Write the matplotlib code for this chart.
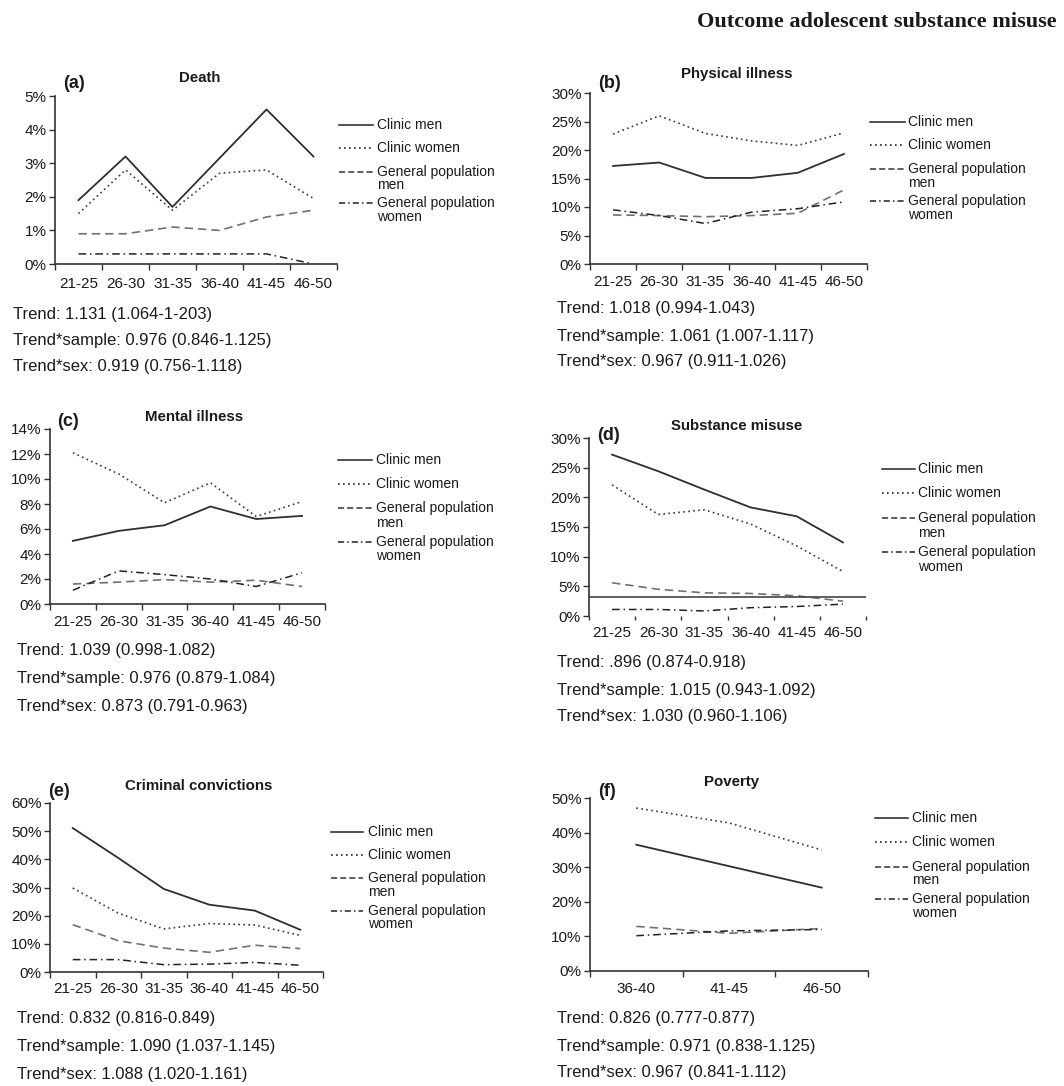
import matplotlib
matplotlib.use("Agg")
import matplotlib.pyplot as plt
from matplotlib.lines import Line2D

plt.rcParams['font.family'] = ['Liberation Sans', 'DejaVu Sans']

# age groups on the x axis
ages6 = ["21-25", "26-30", "31-35", "36-40", "41-45", "46-50"]
ages3 = ["36-40", "41-45", "46-50"]

# (a) death, %
death_cm = [1.9, 3.2, 1.7, 3.15, 4.6, 3.2]
death_cw = [1.5, 2.8, 1.6, 2.7, 2.8, 1.95]
death_gm = [0.9, 0.9, 1.1, 1.0, 1.4, 1.6]
death_gw = [0.3, 0.3, 0.3, 0.3, 0.3, 0.0]

# (b) physical illness, %
phys_cm = [17.2, 17.8, 15.1, 15.1, 16.0, 19.3]
phys_cw = [22.8, 26.0, 22.9, 21.6, 20.8, 23.0]
phys_gm = [8.6, 8.5, 8.3, 8.5, 8.9, 13.0]
phys_gw = [9.5, 8.5, 7.1, 9.1, 9.7, 10.9]

# (c) mental illness, %
mental_cm = [5.05, 5.85, 6.3, 7.8, 6.8, 7.05]
mental_cw = [12.1, 10.4, 8.1, 9.7, 7.0, 8.2]
mental_gm = [1.6, 1.75, 1.95, 1.75, 1.9, 1.4]
mental_gw = [1.1, 2.65, 2.35, 2.0, 1.4, 2.5]

# (d) substance misuse, %
subst_cm = [27.2, 24.4, 21.3, 18.3, 16.8, 12.4]
subst_cw = [22.1, 17.1, 17.9, 15.5, 11.8, 7.5]
subst_gm = [5.6, 4.5, 3.9, 3.8, 3.4, 2.5]
subst_gw = [1.1, 1.1, 0.85, 1.4, 1.6, 2.0]
subst_baseline = 3.15

# (e) criminal convictions, %
crime_cm = [51.1, 40.5, 29.5, 23.9, 21.8, 15.0]
crime_cw = [29.8, 20.9, 15.3, 17.2, 16.7, 13.0]
crime_gm = [16.8, 11.1, 8.5, 7.0, 9.5, 8.3]
crime_gw = [4.4, 4.4, 2.6, 2.8, 3.4, 2.4]

# (f) poverty, %
pov_cm = [36.5, 30.3, 24.1]
pov_cw = [47.1, 42.8, 35.0]
pov_gm = [12.9, 10.9, 12.3]
pov_gw = [10.2, 11.6, 12.0]

labels = ["Clinic men", "Clinic women", "General population\nmen",
          "General population\nwomen"]

trend_a = ["Trend: 1.131 (1.064-1-203)", "Trend*sample: 0.976 (0.846-1.125)",
           "Trend*sex: 0.919 (0.756-1.118)"]
trend_b = ["Trend: 1.018 (0.994-1.043)", "Trend*sample: 1.061 (1.007-1.117)",
           "Trend*sex: 0.967 (0.911-1.026)"]
trend_c = ["Trend: 1.039 (0.998-1.082)", "Trend*sample: 0.976 (0.879-1.084)",
           "Trend*sex: 0.873 (0.791-0.963)"]
trend_d = ["Trend: .896 (0.874-0.918)", "Trend*sample: 1.015 (0.943-1.092)",
           "Trend*sex: 1.030 (0.960-1.106)"]
trend_e = ["Trend: 0.832 (0.816-0.849)", "Trend*sample: 1.090 (1.037-1.145)",
           "Trend*sex: 1.088 (1.020-1.161)"]
trend_f = ["Trend: 0.826 (0.777-0.877)", "Trend*sample: 0.971 (0.838-1.125)",
           "Trend*sex: 0.967 (0.841-1.112)"]

W, H = 1064, 1086
fig = plt.figure(figsize=(W / 100, H / 100), dpi=100)

styles = [
    dict(color="#2e2e2e", lw=1.3, ls="-"),
    dict(color="#3a3a3a", lw=1.2, ls=(0, (1, 2))),
    dict(color="#707070", lw=1.2, ls=(0, (5, 3))),
    dict(color="#222222", lw=1.1, ls=(0, (5, 2.5, 1, 2.5))),
]
legend_styles = [
    dict(color="#222222", lw=1.1, ls="-"),
    dict(color="#222222", lw=1.2, ls=(0, (1, 2))),
    dict(color="#333333", lw=1.1, ls=(0, (4, 2))),
    dict(color="#222222", lw=1.1, ls=(0, (4, 2, 1, 2))),
]


def fx(x):
    return x / W


def fy(y):
    return 1 - y / H


def panel(l, r, t, b, cats, series, ymax, ystep, letter, title, lpos, tpos,
          legend, trend, bottom_axis=True, xpad=8):
    ax = fig.add_axes([fx(l), fy(b), (r - l) / W, (b - t) / H])
    n = len(cats)
    xs = list(range(n))
    for vals, st in zip(series, styles):
        ax.plot(xs, vals, **st)
    ax.set_xlim(-0.5, n - 0.5)
    ax.set_ylim(0, ymax)
    ax.set_yticks(range(0, ymax + 1, ystep))
    ax.set_yticklabels([f"{v}%" for v in range(0, ymax + 1, ystep)])
    ax.set_xticks([i - 0.5 for i in range(n + 1)])
    ax.set_xticklabels([])
    ax.set_xticks(xs, minor=True)
    ax.set_xticklabels(cats, minor=True)
    ax.tick_params(axis="x", which="major", length=4, width=1, color="#333")
    ax.tick_params(axis="x", which="minor", length=0, pad=xpad,
                   labelsize=11, labelcolor="#1a1a1a")
    ax.tick_params(axis="y", length=4, width=1, color="#333", pad=2,
                   labelsize=11, labelcolor="#1a1a1a")
    for s in ["top", "right"]:
        ax.spines[s].set_visible(False)
    for s in ["left", "bottom"]:
        ax.spines[s].set_color("#333")
        ax.spines[s].set_linewidth(1.2)
    if not bottom_axis:
        ax.spines["bottom"].set_visible(False)
        ax.tick_params(axis="x", which="major", length=3)
    ax.patch.set_alpha(0)

    fig.text(fx(lpos[0]), fy(lpos[1]), letter, fontsize=13, fontweight="bold",
             ha="left", va="center", color="#1a1a1a")
    fig.text(fx(tpos[0]), fy(tpos[1]), title, fontsize=10.8,
             fontweight="bold", ha="center", va="center", color="#1a1a1a")

    # legend drawn entry by entry so the sample sits on the first text line
    x0, x1, tx, ys, ys2 = legend
    for i, (lab, st) in enumerate(zip(labels, legend_styles)):
        fig.add_artist(Line2D([fx(x0), fx(x1)], [fy(ys[i]), fy(ys[i])], **st))
        parts = lab.split("\n")
        fig.text(fx(tx), fy(ys[i]), parts[0], fontsize=10, ha="left",
                 va="center", color="#1a1a1a")
        if len(parts) > 1:
            fig.text(fx(tx), fy(ys2[i - 2]), parts[1], fontsize=10,
                     ha="left", va="center", color="#1a1a1a")

    tx0, tys = trend
    for line, yy in zip(trend_lines[letter], tys):
        fig.text(fx(tx0), fy(yy), line, fontsize=12, ha="left", va="center",
                 color="#1a1a1a")
    return ax


trend_lines = {"(a)": trend_a, "(b)": trend_b, "(c)": trend_c,
               "(d)": trend_d, "(e)": trend_e, "(f)": trend_f}

panel(55, 337, 96, 264, ages6, [death_cm, death_cw, death_gm, death_gw],
      5, 1, "(a)", "Death", (63, 83), (200, 78),
      (339, 373, 377, [125, 148, 172, 203], [185, 217]),
      (13, [314, 340, 366]), xpad=9)

panel(590, 867, 93, 264, ages6, [phys_cm, phys_cw, phys_gm, phys_gw],
      30, 5, "(b)", "Physical illness", (598, 83), (737, 74),
      (870, 905, 908, [122, 145, 169, 201], [183, 215]),
      (557, [309, 337, 362]), xpad=8)

panel(50, 325, 429, 604, ages6, [mental_cm, mental_cw, mental_gm, mental_gw],
      14, 2, "(c)", "Mental illness", (57, 422), (194, 417),
      (338, 372, 376, [460, 484, 508, 542], [523, 556]),
      (17, [650, 678, 706]), xpad=8)

ax_d = panel(589, 866, 438, 616, ages6,
             [subst_cm, subst_cw, subst_gm, subst_gw],
             30, 5, "(d)", "Substance misuse", (597, 435), (737, 426),
             (882, 915, 918, [469, 493, 518, 552], [533, 567]),
             (557, [662, 691, 717]), bottom_axis=False, xpad=7)
# horizontal axis line of panel (d) sits above zero
ax_d.axhline(subst_baseline, color="#444", lw=1.2)

panel(50, 323, 803, 972, ages6, [crime_cm, crime_cw, crime_gm, crime_gw],
      60, 10, "(e)", "Criminal convictions", (48, 791), (199, 786),
      (331, 363, 368, [832, 855, 878, 911], [892, 924]),
      (17, [1018, 1047, 1074]), xpad=7.5)

panel(590, 868, 798, 971, ages3, [pov_cm, pov_cw, pov_gm, pov_gw],
      50, 10, "(f)", "Poverty", (598, 791), (732, 782),
      (875, 908, 912, [818, 842, 867, 899], [880, 913]),
      (557, [1019, 1046, 1072]), xpad=8)

fig.text(fx(1057), fy(27), "Outcome adolescent substance misuse",
         fontsize=16, fontweight="bold", ha="right", va="baseline",
         family=["Liberation Serif", "DejaVu Serif"], color="#1a1a1a")

fig.savefig("out.png", dpi=100)
